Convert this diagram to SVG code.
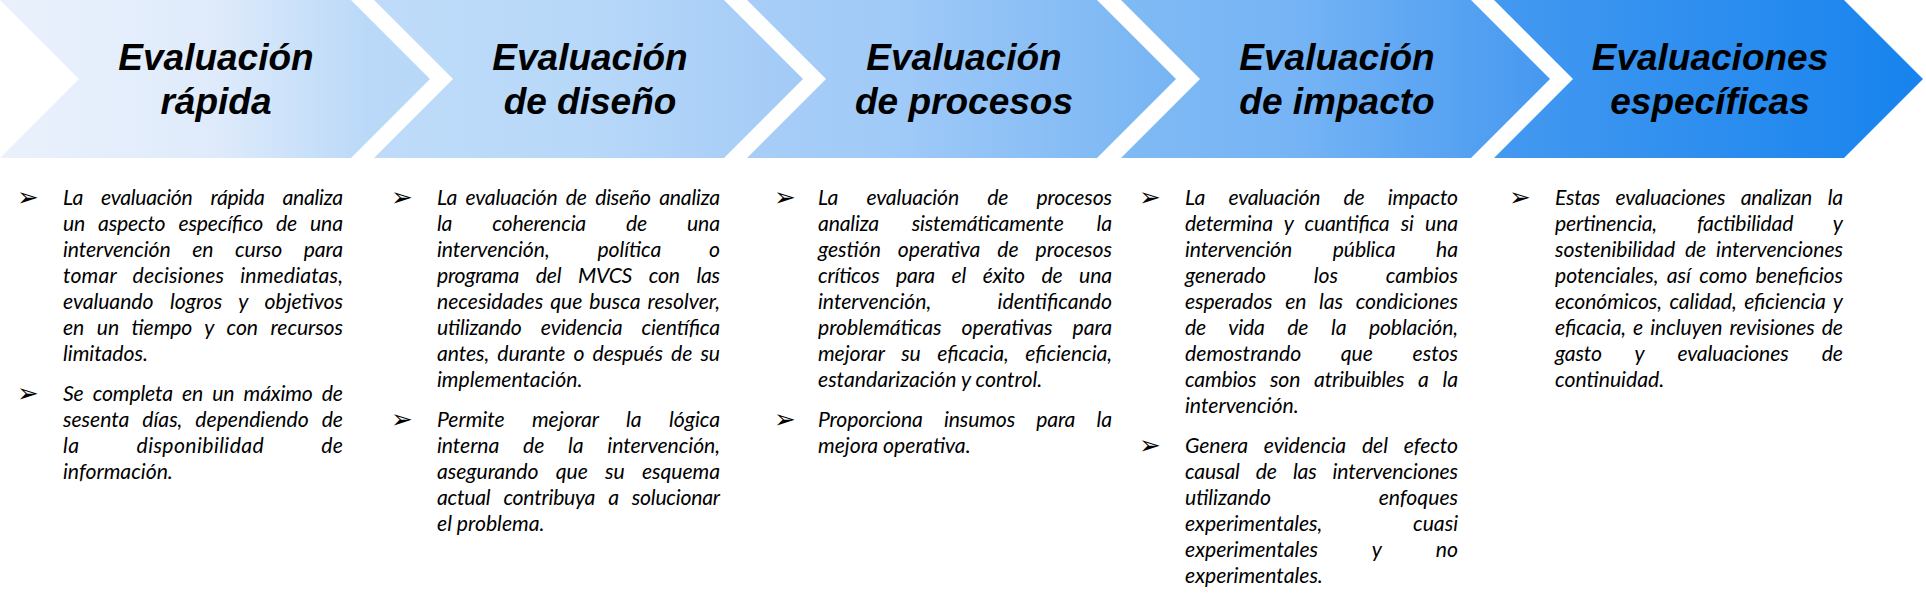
<svg xmlns="http://www.w3.org/2000/svg" width="1926" height="604" viewBox="0 0 1926 604">
<style>
.title{font-family:"Liberation Sans",Arial,sans-serif;font-weight:bold;font-style:italic;font-size:37px;fill:#000;text-anchor:middle}
.body{font-family:Lato,"Carlito","Liberation Sans",sans-serif;font-style:italic;font-size:21.2px;fill:#000}
.bullet{font-family:"DejaVu Sans",sans-serif;font-size:26px;fill:#000}
</style>
<defs>
<linearGradient id="g1" x1="0" y1="0" x2="1" y2="0"><stop offset="0" stop-color="#EAF1FC"/><stop offset="0.5" stop-color="#DFEBFB"/><stop offset="0.85" stop-color="#BAD9F8"/><stop offset="1" stop-color="#B8D8F8"/></linearGradient>
<linearGradient id="g2" x1="0" y1="0" x2="1" y2="0"><stop offset="0" stop-color="#BEDCF9"/><stop offset="0.5" stop-color="#B8D8F9"/><stop offset="1" stop-color="#A2CAF6"/></linearGradient>
<linearGradient id="g3" x1="0" y1="0" x2="1" y2="0"><stop offset="0" stop-color="#A8CEF7"/><stop offset="0.35" stop-color="#A0CAF8"/><stop offset="1" stop-color="#76B4F3"/></linearGradient>
<linearGradient id="g4" x1="0" y1="0" x2="1" y2="0"><stop offset="0" stop-color="#80BAF4"/><stop offset="0.4" stop-color="#76B4F5"/><stop offset="1" stop-color="#4598F0"/></linearGradient>
<linearGradient id="g5" x1="0" y1="0" x2="1" y2="0"><stop offset="0" stop-color="#4499F0"/><stop offset="1" stop-color="#1783EE"/></linearGradient>
</defs>
<rect width="1926" height="604" fill="#fff"/>
<g id="connectors"></g>

<g id="node-1">
<path d="M0,0 H351 L430,79 L351,158 H0 L79,79 Z" fill="url(#g1)"/>
<text class="title" x="216" y="70">Evaluación</text>
<text class="title" x="216" y="114">rápida</text>
<text class="bullet" x="17" y="206">➢</text>
<text class="bullet" x="17" y="402">➢</text>
<text class="body" x="63" y="205" textLength="280" lengthAdjust="spacing" word-spacing="13.4"><tspan>La</tspan> <tspan>evaluación</tspan> <tspan>rápida</tspan> <tspan>analiza</tspan></text>
<text class="body" x="63" y="231" textLength="280" lengthAdjust="spacing" word-spacing="8.2">un aspecto específico de una</text>
<text class="body" x="63" y="257" textLength="280" lengthAdjust="spacing" word-spacing="16.8"><tspan>intervención</tspan> <tspan>en</tspan> <tspan>curso</tspan> <tspan>para</tspan></text>
<text class="body" x="63" y="283" textLength="280" lengthAdjust="spacing" word-spacing="11"><tspan>tomar</tspan> <tspan>decisiones</tspan> <tspan>inmediatas,</tspan></text>
<text class="body" x="63" y="309" textLength="280" lengthAdjust="spacing" word-spacing="11.7"><tspan>evaluando</tspan> <tspan>logros</tspan> <tspan>y</tspan> <tspan>objetivos</tspan></text>
<text class="body" x="63" y="335" textLength="280" lengthAdjust="spacing" word-spacing="7.7">en un tiempo y con recursos</text>
<text class="body" x="63" y="361">limitados.</text>
<text class="body" x="63" y="401" textLength="280" lengthAdjust="spacing" word-spacing="4.4">Se completa en un máximo de</text>
<text class="body" x="63" y="427" textLength="280" lengthAdjust="spacing" word-spacing="8.1">sesenta días, dependiendo de</text>
<text class="body" x="63" y="453" textLength="280" lengthAdjust="spacing" word-spacing="51.7"><tspan>la</tspan> <tspan>disponibilidad</tspan> <tspan>de</tspan></text>
<text class="body" x="63" y="479">información.</text>
</g>

<g id="node-2">
<path d="M374,0 H724 L803,79 L724,158 H374 L453,79 Z" fill="url(#g2)"/>
<text class="title" x="590" y="70">Evaluación</text>
<text class="title" x="590" y="114">de diseño</text>
<text class="bullet" x="391" y="206">➢</text>
<text class="bullet" x="391" y="428">➢</text>
<text class="body" x="437" y="205" textLength="283" lengthAdjust="spacing" word-spacing="3.7">La evaluación de diseño analiza</text>
<text class="body" x="437" y="231" textLength="283" lengthAdjust="spacing" word-spacing="35.2"><tspan>la</tspan> <tspan>coherencia</tspan> <tspan>de</tspan> <tspan>una</tspan></text>
<text class="body" x="437" y="257" textLength="283" lengthAdjust="spacing" word-spacing="42.8"><tspan>intervención,</tspan> <tspan>política</tspan> <tspan>o</tspan></text>
<text class="body" x="437" y="283" textLength="283" lengthAdjust="spacing" word-spacing="12.1"><tspan>programa</tspan> <tspan>del</tspan> <tspan>MVCS</tspan> <tspan>con</tspan> <tspan>las</tspan></text>
<text class="body" x="437" y="309" textLength="283" lengthAdjust="spacing" word-spacing="2">necesidades que busca resolver,</text>
<text class="body" x="437" y="335" textLength="283" lengthAdjust="spacing" word-spacing="14.4"><tspan>utilizando</tspan> <tspan>evidencia</tspan> <tspan>científica</tspan></text>
<text class="body" x="437" y="361" textLength="283" lengthAdjust="spacing" word-spacing="3.3">antes, durante o después de su</text>
<text class="body" x="437" y="387">implementación.</text>
<text class="body" x="437" y="427" textLength="283" lengthAdjust="spacing" word-spacing="22.5"><tspan>Permite</tspan> <tspan>mejorar</tspan> <tspan>la</tspan> <tspan>lógica</tspan></text>
<text class="body" x="437" y="453" textLength="283" lengthAdjust="spacing" word-spacing="18.9"><tspan>interna</tspan> <tspan>de</tspan> <tspan>la</tspan> <tspan>intervención,</tspan></text>
<text class="body" x="437" y="479" textLength="283" lengthAdjust="spacing" word-spacing="12.4"><tspan>asegurando</tspan> <tspan>que</tspan> <tspan>su</tspan> <tspan>esquema</tspan></text>
<text class="body" x="437" y="505" textLength="283" lengthAdjust="spacing" word-spacing="8.3">actual contribuya a solucionar</text>
<text class="body" x="437" y="531">el problema.</text>
</g>

<g id="node-3">
<path d="M747,0 H1097 L1176,79 L1097,158 H747 L826,79 Z" fill="url(#g3)"/>
<text class="title" x="964" y="70">Evaluación</text>
<text class="title" x="964" y="114">de procesos</text>
<text class="bullet" x="774" y="206">➢</text>
<text class="bullet" x="774" y="428">➢</text>
<text class="body" x="818" y="205" textLength="294" lengthAdjust="spacing" word-spacing="23.4"><tspan>La</tspan> <tspan>evaluación</tspan> <tspan>de</tspan> <tspan>procesos</tspan></text>
<text class="body" x="818" y="231" textLength="294" lengthAdjust="spacing" word-spacing="28.1"><tspan>analiza</tspan> <tspan>sistemáticamente</tspan> <tspan>la</tspan></text>
<text class="body" x="818" y="257" textLength="294" lengthAdjust="spacing" word-spacing="12.1"><tspan>gestión</tspan> <tspan>operativa</tspan> <tspan>de</tspan> <tspan>procesos</tspan></text>
<text class="body" x="818" y="283" textLength="294" lengthAdjust="spacing" word-spacing="11.9"><tspan>críticos</tspan> <tspan>para</tspan> <tspan>el</tspan> <tspan>éxito</tspan> <tspan>de</tspan> <tspan>una</tspan></text>
<text class="body" x="818" y="309" textLength="294" lengthAdjust="spacing" word-spacing="61.3"><tspan>intervención,</tspan> <tspan>identificando</tspan></text>
<text class="body" x="818" y="335" textLength="294" lengthAdjust="spacing" word-spacing="15"><tspan>problemáticas</tspan> <tspan>operativas</tspan> <tspan>para</tspan></text>
<text class="body" x="818" y="361" textLength="294" lengthAdjust="spacing" word-spacing="11.7"><tspan>mejorar</tspan> <tspan>su</tspan> <tspan>eficacia,</tspan> <tspan>eficiencia,</tspan></text>
<text class="body" x="818" y="387">estandarización y control.</text>
<text class="body" x="818" y="427" textLength="294" lengthAdjust="spacing" word-spacing="16.4"><tspan>Proporciona</tspan> <tspan>insumos</tspan> <tspan>para</tspan> <tspan>la</tspan></text>
<text class="body" x="818" y="453">mejora operativa.</text>
</g>

<g id="node-4">
<path d="M1121,0 H1471 L1550,79 L1471,158 H1121 L1200,79 Z" fill="url(#g4)"/>
<text class="title" x="1337" y="70">Evaluación</text>
<text class="title" x="1337" y="114">de impacto</text>
<text class="bullet" x="1139" y="206">➢</text>
<text class="bullet" x="1139" y="454">➢</text>
<text class="body" x="1185" y="205" textLength="273" lengthAdjust="spacing" word-spacing="18.6"><tspan>La</tspan> <tspan>evaluación</tspan> <tspan>de</tspan> <tspan>impacto</tspan></text>
<text class="body" x="1185" y="231" textLength="273" lengthAdjust="spacing" word-spacing="6.6">determina y cuantifica si una</text>
<text class="body" x="1185" y="257" textLength="273" lengthAdjust="spacing" word-spacing="35.9"><tspan>intervención</tspan> <tspan>pública</tspan> <tspan>ha</tspan></text>
<text class="body" x="1185" y="283" textLength="273" lengthAdjust="spacing" word-spacing="42.9"><tspan>generado</tspan> <tspan>los</tspan> <tspan>cambios</tspan></text>
<text class="body" x="1185" y="309" textLength="273" lengthAdjust="spacing" word-spacing="7.8">esperados en las condiciones</text>
<text class="body" x="1185" y="335" textLength="273" lengthAdjust="spacing" word-spacing="17.9"><tspan>de</tspan> <tspan>vida</tspan> <tspan>de</tspan> <tspan>la</tspan> <tspan>población,</tspan></text>
<text class="body" x="1185" y="361" textLength="273" lengthAdjust="spacing" word-spacing="34.6"><tspan>demostrando</tspan> <tspan>que</tspan> <tspan>estos</tspan></text>
<text class="body" x="1185" y="387" textLength="273" lengthAdjust="spacing" word-spacing="9.1">cambios son atribuibles a la</text>
<text class="body" x="1185" y="413">intervención.</text>
<text class="body" x="1185" y="453" textLength="273" lengthAdjust="spacing" word-spacing="11"><tspan>Genera</tspan> <tspan>evidencia</tspan> <tspan>del</tspan> <tspan>efecto</tspan></text>
<text class="body" x="1185" y="479" textLength="273" lengthAdjust="spacing" word-spacing="11.2"><tspan>causal</tspan> <tspan>de</tspan> <tspan>las</tspan> <tspan>intervenciones</tspan></text>
<text class="body" x="1185" y="505" textLength="273" lengthAdjust="spacing" word-spacing="102.7"><tspan>utilizando</tspan> <tspan>enfoques</tspan></text>
<text class="body" x="1185" y="531" textLength="273" lengthAdjust="spacing" word-spacing="85.8"><tspan>experimentales,</tspan> <tspan>cuasi</tspan></text>
<text class="body" x="1185" y="557" textLength="273" lengthAdjust="spacing" word-spacing="49.3"><tspan>experimentales</tspan> <tspan>y</tspan> <tspan>no</tspan></text>
<text class="body" x="1185" y="583">experimentales.</text>
</g>

<g id="node-5">
<path d="M1494,0 H1844 L1923,79 L1844,158 H1494 L1573,79 Z" fill="url(#g5)"/>
<text class="title" x="1710" y="70">Evaluaciones</text>
<text class="title" x="1710" y="114">específicas</text>
<text class="bullet" x="1509" y="206">➢</text>
<text class="body" x="1555" y="205" textLength="288" lengthAdjust="spacing" word-spacing="10.9"><tspan>Estas</tspan> <tspan>evaluaciones</tspan> <tspan>analizan</tspan> <tspan>la</tspan></text>
<text class="body" x="1555" y="231" textLength="288" lengthAdjust="spacing" word-spacing="35.1"><tspan>pertinencia,</tspan> <tspan>factibilidad</tspan> <tspan>y</tspan></text>
<text class="body" x="1555" y="257" textLength="288" lengthAdjust="spacing" word-spacing="4.9">sostenibilidad de intervenciones</text>
<text class="body" x="1555" y="283" textLength="288" lengthAdjust="spacing" word-spacing="3.5">potenciales, así como beneficios</text>
<text class="body" x="1555" y="309" textLength="288" lengthAdjust="spacing" word-spacing="2.7">económicos, calidad, eficiencia y</text>
<text class="body" x="1555" y="335" textLength="288" lengthAdjust="spacing" word-spacing="2.2">eficacia, e incluyen revisiones de</text>
<text class="body" x="1555" y="361" textLength="288" lengthAdjust="spacing" word-spacing="28.4"><tspan>gasto</tspan> <tspan>y</tspan> <tspan>evaluaciones</tspan> <tspan>de</tspan></text>
<text class="body" x="1555" y="387">continuidad.</text>
</g>
</svg>
